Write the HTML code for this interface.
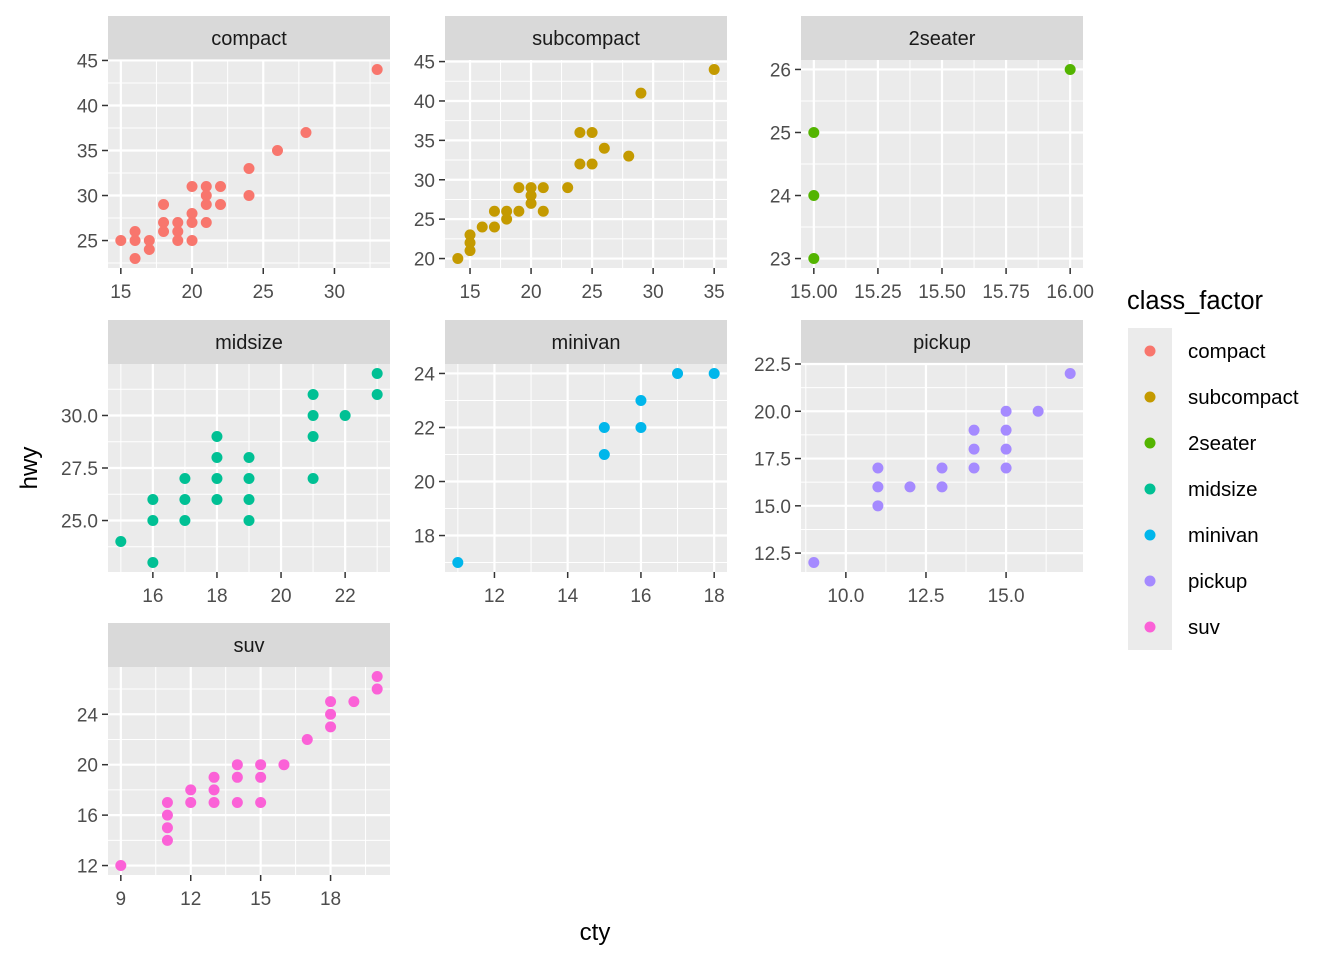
<!DOCTYPE html>
<html><head><meta charset="utf-8"><style>body{margin:0;background:#fff}svg{display:block;font-family:"Liberation Sans",Arial,sans-serif}</style></head>
<body>
<svg id="c" width="1344" height="960" xmlns="http://www.w3.org/2000/svg"></svg>
<script>
const classes = ["compact","subcompact","2seater","midsize","minivan","pickup","suv"];
const colors = ["#F8766D","#C49A00","#53B400","#00C094","#00B6EB","#A58AFF","#FB61D7"];
const ctyCompact = [15,16,16,16,17,17,18,18,18,19,19,19,20,20,20,20,21,21,21,21,22,22,24,24,26,28,33];
const hwyCompact = [25,26,25,23,25,24,29,27,26,27,26,25,31,28,27,25,31,30,29,27,31,29,33,30,35,37,44];
const ctySubcompact = [14,15,15,15,16,17,17,18,18,19,19,20,20,20,21,21,23,24,24,25,25,26,28,29,35];
const hwySubcompact = [20,23,22,21,24,26,24,26,25,29,26,29,28,27,29,26,29,36,32,36,32,34,33,41,44];
const cty2seater = [15,15,15,16];
const hwy2seater = [25,24,23,26];
const ctyMidsize = [15,16,16,16,17,17,17,18,18,18,18,19,19,19,19,21,21,21,21,22,23,23];
const hwyMidsize = [24,26,25,23,27,26,25,29,28,27,26,28,27,26,25,31,30,29,27,30,32,31];
const ctyMinivan = [11,15,15,16,16,17,18];
const hwyMinivan = [17,22,21,23,22,24,24];
const ctyPickup = [9,11,11,11,12,13,13,14,14,14,15,15,15,15,16,17];
const hwyPickup = [12,17,16,15,16,17,16,19,18,17,20,19,18,17,20,22];
const ctySuv = [9,11,11,11,11,12,12,13,13,13,14,14,14,15,15,15,16,17,18,18,18,19,20,20];
const hwySuv = [12,17,16,15,14,18,17,19,18,17,20,19,17,20,19,17,20,22,25,24,23,25,27,26];
const xTicks = [[15,20,25,30],[15,20,25,30,35],[15,15.25,15.5,15.75,16],[16,18,20,22],[12,14,16,18],[10,12.5,15],[9,12,15,18]];
const xTickLabels = [["15","20","25","30"],["15","20","25","30","35"],["15.00","15.25","15.50","15.75","16.00"],["16","18","20","22"],["12","14","16","18"],["10.0","12.5","15.0"],["9","12","15","18"]];
const yTicks = [[25,30,35,40,45],[20,25,30,35,40,45],[23,24,25,26],[25,27.5,30],[18,20,22,24],[12.5,15,17.5,20,22.5],[12,16,20,24]];
const yTickLabels = [["25","30","35","40","45"],["20","25","30","35","40","45"],["23","24","25","26"],["25.0","27.5","30.0"],["18","20","22","24"],["12.5","15.0","17.5","20.0","22.5"],["12","16","20","24"]];
const ctyData = [ctyCompact,ctySubcompact,cty2seater,ctyMidsize,ctyMinivan,ctyPickup,ctySuv];
const hwyData = [hwyCompact,hwySubcompact,hwy2seater,hwyMidsize,hwyMinivan,hwyPickup,hwySuv];

const svg=document.getElementById('c');const NS="http://www.w3.org/2000/svg";
function mk(t,a,p){const e=document.createElementNS(NS,t);for(const k in a)e.setAttribute(k,a[k]);(p||svg).appendChild(e);return e;}
const colX=[108,445,801], rowY=[16,320,623], PW=282, SH=44, PH=208;
function dom(v){const lo=Math.min(...v),hi=Math.max(...v),r=(hi-lo)||1;return [lo-0.05*r,hi+0.05*r];}
for(let i=0;i<7;i++){
  const L=colX[i%3], T=rowY[Math.floor(i/3)], pt=T+SH;
  const g=mk('g',{});
  
  
  const dx=dom(ctyData[i]), dy=dom(hwyData[i]);
  const sx=v=>L+(v-dx[0])/(dx[1]-dx[0])*PW, sy=v=>pt+PH-(v-dy[0])/(dy[1]-dy[0])*PH;
  const strip=mk('rect',{x:L,y:T,width:PW,height:SH,fill:'#D9D9D9'},g);
  
  
  const st=mk('text',{x:L+PW/2,y:T+29,'text-anchor':'middle','font-size':'20','fill':'#1A1A1A'},g);st.textContent=classes[i];
  
  
  mk('rect',{x:L,y:pt,width:PW,height:PH,fill:'#EBEBEB'},g);
  const minors=(t,d)=>{const s=t[1]-t[0],o=[];for(const b of t)o.push(b-s/2);o.push(t[t.length-1]+s/2);return o.filter(v=>v>d[0]&&v<d[1]);};
  for(const m of minors(xTicks[i],dx))mk('line',{x1:sx(m),x2:sx(m),y1:pt,y2:pt+PH,stroke:'#fff','stroke-width':1},g);
  for(const m of minors(yTicks[i],dy))mk('line',{y1:sy(m),y2:sy(m),x1:L,x2:L+PW,stroke:'#fff','stroke-width':1},g);
  xTicks[i].forEach((v,k)=>{const x=sx(v);
    mk('line',{x1:x,x2:x,y1:pt,y2:pt+PH,stroke:'#fff','stroke-width':2.2},g);
    mk('line',{x1:x,x2:x,y1:pt+PH,y2:pt+PH+6,stroke:'#333','stroke-width':1.5},g);
    const t=mk('text',{x:x,y:pt+PH+30,'text-anchor':'middle','font-size':'19',fill:'#4D4D4D'},g);t.textContent=xTickLabels[i][k];
    
    });
  yTicks[i].forEach((v,k)=>{const y=sy(v);
    mk('line',{x1:L,x2:L+PW,y1:y,y2:y,stroke:'#fff','stroke-width':2.2},g);
    mk('line',{x1:L-6,x2:L,y1:y,y2:y,stroke:'#333','stroke-width':1.5},g);
    const t=mk('text',{x:L-10,y:y+7,'text-anchor':'end','font-size':'19',fill:'#4D4D4D'},g);t.textContent=yTickLabels[i][k];
    
    });
  ctyData[i].forEach((v,k)=>{const c=mk('circle',{cx:sx(v),cy:sy(hwyData[i][k]),r:5.5,fill:colors[i]},g);
    
    });
}
const xt=mk('text',{x:595,y:940,'text-anchor':'middle','font-size':'24',fill:'#000'});xt.textContent='cty';


const yt=mk('text',{x:0,y:0,'text-anchor':'middle','font-size':'24',fill:'#000',transform:'translate(37,468) rotate(-90)'});yt.textContent='hwy';


const lg=mk('g',{});


const lt=mk('text',{x:1127,y:309,'font-size':'25.5',fill:'#000'},lg);lt.textContent='class_factor';


classes.forEach((c,k)=>{const y=328+k*46;
  mk('rect',{x:1128,y:y,width:44,height:46,fill:'#EBEBEB'},lg);
  const d=mk('circle',{cx:1150,cy:y+23,r:5.5,fill:colors[k]},lg);
  
  
  const t=mk('text',{x:1188,y:y+30,'font-size':'20.5',fill:'#000'},lg);t.textContent=c;
  
  
});
</script>
</body></html>
